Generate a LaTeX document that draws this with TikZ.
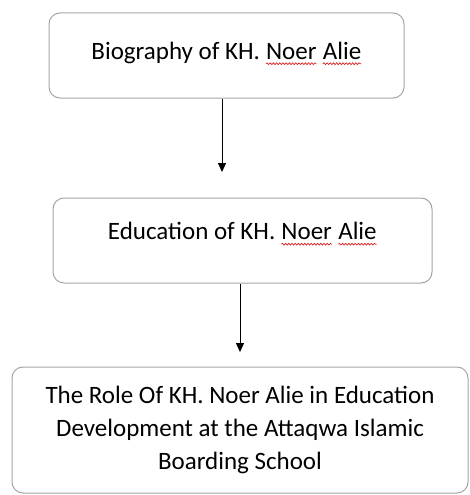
\documentclass[tikz,border=0pt]{standalone}
\usepackage{fontspec}
\setmainfont{Carlito}
\usepackage{tikz}
\usetikzlibrary{arrows.meta,decorations.pathmorphing}

\definecolor{boxgray}{RGB}{165,165,165}
\definecolor{spellred}{RGB}{220,30,30}

\tikzset{
    stagebox/.style={draw=boxgray, line width=1pt, rounded corners=11pt,
        align=center, inner sep=0pt, font=\fontsize{25}{33}\selectfont},
    flowarrow/.style={-{Triangle[length=9pt,width=8pt]}, line width=1pt},
}

% red spell-check wave under a word
\newcommand{\wavy}[1]{\tikz[baseline=(w.base), sharp corners, x=1pt, y=1pt]{%
    \node[draw=none, inner sep=0pt, outer sep=0pt, minimum width=0pt,
        minimum height=0pt, text height=, text depth=] (w) {#1};
    \draw[spellred, line width=0.7pt, decorate,
        decoration={snake, amplitude=0.9pt, segment length=3.2pt}]
        ([yshift=-4.5pt]w.base west) -- ([yshift=-4.5pt]w.base east);}}

\begin{document}
\begin{tikzpicture}[x=1pt,y=-1pt]
    \useasboundingbox (0,0) rectangle (469,495);
    \node[stagebox, minimum width=355pt, minimum height=85pt,
        text height=19pt, text depth=11.6pt] (bio) at (226.5,55.5)
        {Biography of KH. \wavy{Noer} \wavy{Alie}};
    \node[stagebox, minimum width=379pt, minimum height=85pt,
        text height=19pt, text depth=20.6pt] (edu) at (242.5,240.5)
        {Education of KH. \wavy{Noer} \wavy{Alie}};
    \node[stagebox, minimum width=456pt, minimum height=126pt] (role) at (240,430)
        {The Role Of KH. Noer Alie in Education\\
         Development at the Attaqwa Islamic\\
         Boarding School};
    \coordinate (tipA) at (222,172);
    \coordinate (tipB) at (240,352);
    \draw[flowarrow] (bio.south -| tipA) -- (tipA);
    \draw[flowarrow] (edu.south -| tipB) -- (tipB);
    %\draw[flowarrow] (edu) -- (role);
\end{tikzpicture}
\end{document}
